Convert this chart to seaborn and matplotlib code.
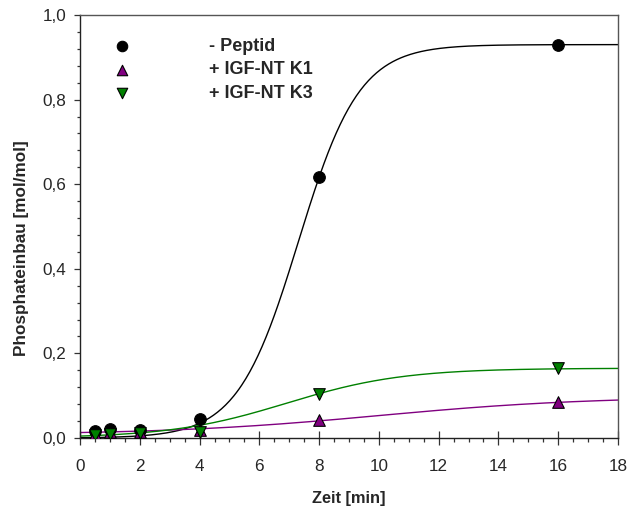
import numpy as np
import matplotlib
matplotlib.use("Agg")
import matplotlib.pyplot as plt
import seaborn as sns
from matplotlib.ticker import MultipleLocator, FuncFormatter

sns.set_style("ticks")
plt.rcParams['font.family'] = ['Liberation Sans', 'DejaVu Sans']

# Data
zeit = [0.5, 1, 2, 4, 8, 16]
peptid = [0.017, 0.022, 0.020, 0.045, 0.617, 0.930]
k1 = [0.010, 0.015, 0.015, 0.020, 0.043, 0.085]
k3 = [0.008, 0.010, 0.012, 0.015, 0.105, 0.165]

series_names = ["- Peptid", "+ IGF-NT K1", "+ IGF-NT K3"]
series_colors = ["black", "#800080", "#008000"]
series_markers = ["o", "^", "v"]

# Sigmoid fit parameters (offset, plateau, midpoint, width) estimated from the curves
fit_peptid = (0.0, 0.93, 7.31, 1.02)
fit_k1 = (0.008, 0.09, 10.0, 3.5)
fit_k3 = (0.0, 0.165, 6.92, 1.94)

x_ticks = [0, 2, 4, 6, 8, 10, 12, 14, 16, 18]
y_ticks = [0.0, 0.2, 0.4, 0.6, 0.8, 1.0]


def sigmoid(x, p):
    y0, a, x0, b = p
    return y0 + a / (1 + np.exp(-(x - x0) / b))


fig = plt.figure(figsize=(6.27, 5.13), dpi=100)
ax = fig.add_axes([80 / 627, 1 - 438 / 513, 538 / 627, 423 / 513])

xs = np.linspace(0, 18, 400)
datas = [peptid, k1, k3]
fits = [fit_peptid, fit_k1, fit_k3]
for name, vals, fit, col, mk in zip(series_names, datas, fits, series_colors, series_markers):
    sns.lineplot(x=xs, y=sigmoid(xs, fit), ax=ax, color=col, linewidth=1.0, zorder=2)
for name, vals, fit, col, mk in zip(series_names, datas, fits, series_colors, series_markers):
    sns.scatterplot(x=zeit, y=vals, ax=ax, color=col, marker=mk, s=70,
                    edgecolor="black", linewidth=0.8, label=name, zorder=3)

ax.set_xlim(0, 18)
ax.set_ylim(0, 1.0)
ax.set_xticks(x_ticks)
ax.set_yticks(y_ticks)
ax.xaxis.set_minor_locator(MultipleLocator(0.5))
ax.yaxis.set_minor_locator(MultipleLocator(0.04))
ax.yaxis.set_major_formatter(FuncFormatter(lambda v, p: f"{v:.1f}".replace(".", ",")))
ax.xaxis.set_major_formatter(FuncFormatter(lambda v, p: f"{int(v)}"))
ax.tick_params(axis="x", which="major", direction="inout", length=9.4, width=0.9,
               labelsize=12.3, color="#333333", pad=10.5)
ax.tick_params(axis="x", which="minor", direction="out", length=2.9, width=0.9, color="#333333")
ax.tick_params(axis="y", which="major", direction="out", length=4.3, width=0.9,
               labelsize=12.3, color="#333333", pad=5.5)
ax.tick_params(axis="y", which="minor", direction="out", length=2.0, width=0.9, color="#333333")
ax.tick_params(top=False, right=False, which="both")
for s in ax.spines.values():
    s.set_visible(True)
    s.set_color("#555555")
    s.set_linewidth(1.0)
ax.spines["bottom"].set_color("#222222")
ax.spines["left"].set_color("#222222")

ax.set_xlabel("Zeit [min]", fontsize=11.8, fontweight="bold", labelpad=12)
ax.set_ylabel("Phosphateinbau [mol/mol]", fontsize=12.3, fontweight="bold")
ax.yaxis.set_label_coords(-(80 - 29) / 538, (438 - 248) / 423)

leg = ax.legend(loc="upper left", frameon=False, prop={"weight": "bold", "size": 13},
                bbox_to_anchor=((104 - 80) / 538, (438 - 38) / 423),
                handletextpad=3.8, handlelength=2.0, labelspacing=0.35,
                borderpad=0, borderaxespad=0, markerscale=0.9)

fig.savefig("out.png", dpi=100)
